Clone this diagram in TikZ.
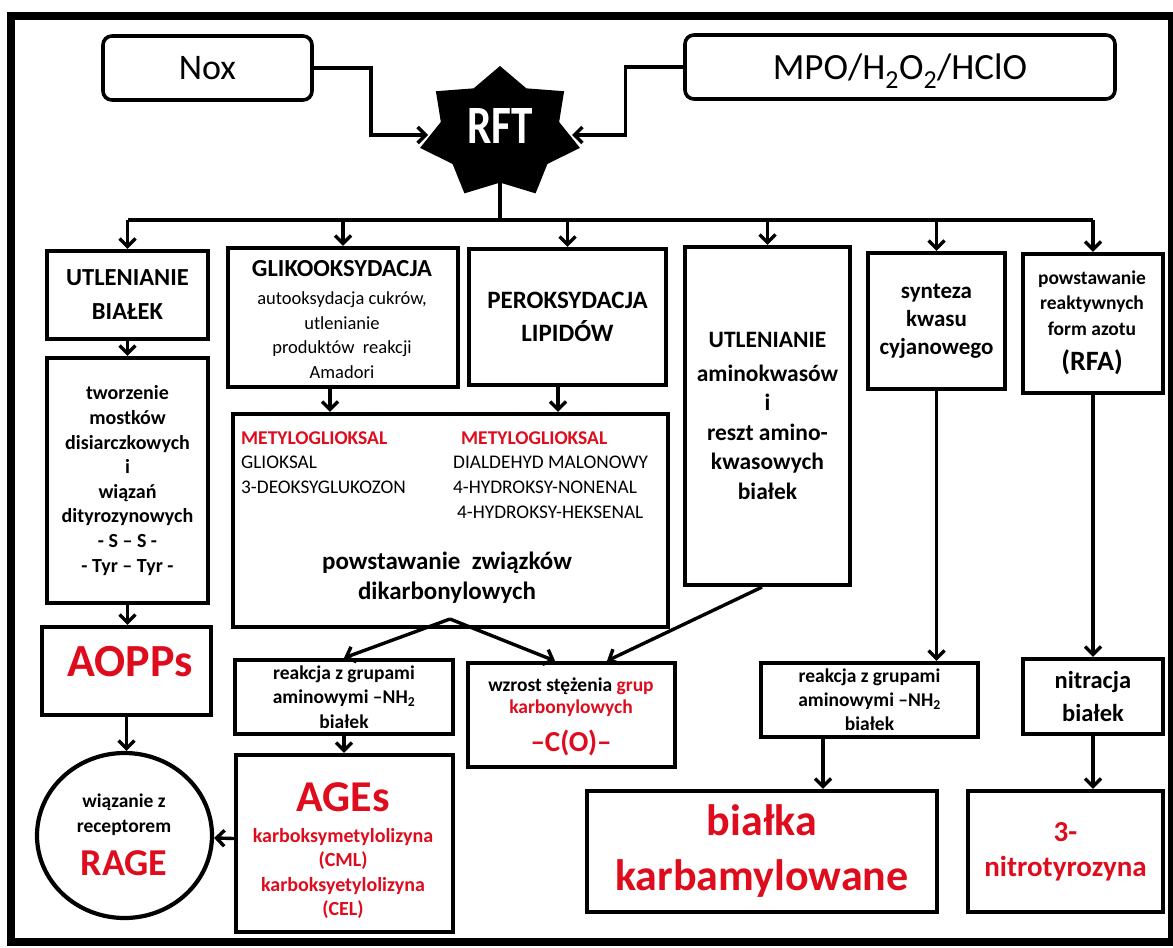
\documentclass[tikz,border=0pt]{standalone}
\usepackage{fontspec}
\usepackage{graphicx}
\setmainfont{Carlito}
\usetikzlibrary{arrows.meta,shapes.geometric}
\definecolor{hred}{RGB}{222,12,28}
\newcommand\fsz[2]{\fontsize{#1}{#2}\selectfont}

\begin{document}
\begin{tikzpicture}[x=1pt,y=-1pt,
  box/.style={draw, line width=4.2pt, inner sep=0pt, align=center},
  rbox/.style={draw, line width=3.6pt, inner sep=0pt, rounded corners=9pt},
  txt/.style={inner sep=0pt, align=center},
  ln/.style={line width=3.4pt},
  arr/.style={line width=3.4pt, -{Straight Barb[length=8pt,width=16pt]}}]

\useasboundingbox (0,0) rectangle (1173,948);
\fill[white] (0,0) rectangle (1173,948);

% outer frame
\draw[line width=8pt] (11,16) rectangle (1172,942);

% sources
\node[rbox, minimum width=209pt, minimum height=64pt, font=\fsz{36}{40}] (nox) at (207.5,68) {Nox};
\node[rbox, minimum width=430pt, minimum height=64pt, font=\fsz{37}{40}] (mpo) at (900,67) {\raisebox{0pt}[\height][0pt]{MPO/H\textsubscript{2}O\textsubscript{2}/HClO}};

% seven-pointed star
\fill plot[samples at={0,...,13}, variable=\k]
  ({500+(1-0.26*mod(\k,2))*82*cos(-90+\k*360/14)},{133+(1-0.26*mod(\k,2))*67*sin(-90+\k*360/14)}) -- cycle;
\node[txt, font=\fsz{54}{54}\bfseries, text=white] (rft) at (500,126) {\scalebox{0.8}[1]{RFT}};
\coordinate (rftL) at (428,135);
\coordinate (rftR) at (572,135);
\coordinate (rftB) at (500,180);
\coordinate (bus) at (500,220);
\coordinate (busL) at (128,220);
\coordinate (busR) at (1093,220);

% first row
\node[box, minimum width=161pt, minimum height=88pt, font=\fsz{24.5}{34}\bfseries] (b1) at (127.5,295) {UTLENIANIE\\BIAŁEK};

\node[box, minimum width=230pt, minimum height=139pt] (b2) at (343,317.5) {};
\node[txt, font=\fsz{24.5}{29}\bfseries] (b2t) at (342,269) {GLIKOOKSYDACJA};
\node[txt, font=\fsz{18.5}{24.6}] (b2s) at (342,335) {autooksydacja cukrów,\\utlenianie\\produktów\ \ reakcji\\Amadori};

\node[box, minimum width=197pt, minimum height=136pt, font=\fsz{25}{33}\bfseries] (b3) at (567.5,317) {PEROKSYDACJA\\LIPIDÓW};

\node[box, minimum width=165pt, minimum height=338pt, font=\fsz{23.5}{29.5}\bfseries] (b4) at (767.5,416) {UTLENIANIE\\[4pt]aminokwasów\\i\\reszt amino-\\kwasowych\\białek};

\node[box, minimum width=137pt, minimum height=136pt, font=\fsz{23}{28}\bfseries] (b5) at (936.5,321) {synteza\\kwasu\\cyjanowego};

\node[box, minimum width=140pt, minimum height=139pt] (b6) at (1093,323.5) {};
\node[txt, font=\fsz{19.5}{25.5}\bfseries] (b6t) at (1092,303) {powstawanie\\reaktywnych\\form azotu};
\node[txt, font=\fsz{28}{30}\bfseries] (b6r) at (1092,362) {(RFA)};

% second row
\node[box, minimum width=161pt, minimum height=245pt, font=\fsz{20}{24.6}\bfseries] (b7) at (127.5,480.5) {tworzenie\\mostków\\disiarczkowych\\i\\wiązań\\dityrozynowych\\- S – S -\\- Tyr – Tyr -};

\node[box, minimum width=435pt, minimum height=213pt] (b8) at (450.5,520.5) {};
\node[txt, anchor=west, font=\fsz{19.5}{24}\bfseries, text=hred] (mg1) at (241,438) {METYLOGLIOKSAL};
\node[txt, anchor=west, font=\fsz{19.3}{24}] (gl) at (241,462) {GLIOKSAL};
\node[txt, anchor=west, font=\fsz{19.3}{24}] (dg) at (241,487) {3-DEOKSYGLUKOZON};
\node[txt, anchor=west, font=\fsz{19.5}{24}\bfseries, text=hred] (mg2) at (461,438) {METYLOGLIOKSAL};
\node[txt, anchor=west, font=\fsz{19.3}{24}] (dm) at (453,462) {DIALDEHYD MALONOWY};
\node[txt, anchor=west, font=\fsz{19.3}{24}] (hn) at (453,487) {4-HYDROKSY-NONENAL};
\node[txt, anchor=west, font=\fsz{19.3}{24}] (hh) at (457,512) {4-HYDROKSY-HEKSENAL};
\node[txt, font=\fsz{25}{30}\bfseries] (dik) at (447,578) {powstawanie\ \ związków\\dikarbonylowych};
\coordinate (apex) at (450,619);

% lower rows
\node[box, minimum width=169pt, minimum height=88pt] (b9) at (126.5,671) {};
\node[txt, font=\fsz{46}{46}\bfseries, text=hred] (b9t) at (130,662) {AOPPs};

\node[draw, ellipse, line width=4.2pt, minimum width=175pt, minimum height=165pt, inner sep=0pt] (rage) at (124.5,835.5) {};
\node[txt, font=\fsz{19.5}{25}\bfseries] (raget) at (124,815) {wiązanie z\\receptorem};
\node[txt, font=\fsz{38}{38}\bfseries, text=hred] (rager) at (124,863) {RAGE};

\node[box, minimum width=218pt, minimum height=74pt, font=\fsz{19.5}{24.5}\bfseries] (b10) at (344,697) {reakcja z grupami\\aminowymi –NH\textsubscript{2}\\białek};

\node[box, minimum width=217pt, minimum height=177pt] (b11) at (344.5,843.5) {};
\node[txt, font=\fsz{44}{44}\bfseries, text=hred] (b11t) at (343,797) {AGEs};
\node[txt, font=\fsz{20}{24.5}\bfseries, text=hred] (b11s) at (343,873.5) {karboksymetylolizyna\\(CML)\\karboksyetylolizyna\\(CEL)};

\node[box, minimum width=207pt, minimum height=104pt] (b12) at (571.5,715) {};
\node[txt, font=\fsz{19.5}{22}\bfseries] (b12t) at (571,697) {wzrost stężenia \textcolor{hred}{grup}\\\textcolor{hred}{karbonylowych}};
\node[txt, font=\fsz{29}{30}\bfseries, text=hred] (b12c) at (571,743) {–C(O)–};

\node[box, minimum width=217pt, minimum height=74pt, font=\fsz{19.5}{24}\bfseries] (b13) at (869.5,700) {reakcja z grupami\\aminowymi –NH\textsubscript{2}\\białek};

\node[box, minimum width=350pt, minimum height=121pt, font=\fsz{44}{55}\bfseries, text=hred] (b14) at (762,851.5) {białka\\karbamylowane};

\node[box, minimum width=140pt, minimum height=75pt, font=\fsz{24.5}{33}\bfseries] (b15) at (1093,696.5) {nitracja\\białek};

\node[box, minimum width=195pt, minimum height=121pt, font=\fsz{29}{35}\bfseries, text=hred] (b16) at (1065.5,851.5) {3-\\nitrotyrozyna};

% connectors
\draw[arr] (nox.east) -- ++(57,0) |- (rftL);
\draw[arr] (mpo.west) -- ++(-58,0) |- (rftR);
\draw[ln] (rftB) -- (bus);
\draw[ln] (busL) -- (busR);
\foreach \n in {b1,b2,b3,b4,b5,b6}
  \draw[arr] (\n.north |- bus) -- (\n.north);

\draw[arr] (b1.south) -- (b7.north);
\draw[arr] (b7.south) -- (b7.south |- b9.north);
\draw[arr] (b9.south) -- (b9.south |- rage.north);
\draw[arr] ([xshift=-13pt]b2.south) -- ([xshift=-13pt]b2.south |- b8.north);
\draw[arr] ([xshift=-9.5pt]b3.south) -- ([xshift=-9.5pt]b3.south |- b8.north);
\draw[arr] (apex) -- (b10.north);
\draw[arr] (apex) -- ([xshift=-16.5pt]b12.north);
\draw[arr] ([xshift=-5.5pt]b4.south) -- ([xshift=35.5pt]b12.north);
\draw[arr] (b10.south) -- (b10.south |- b11.north);
\draw[arr] ([yshift=5pt]b11.west) -- (rage);
\draw[arr] (b5.south) -- (b5.south |- b13.north);
\draw[arr] (b6.south) -- (b6.south |- b15.north);
\draw[arr] ([xshift=-46.5pt]b13.south) -- ([xshift=-46.5pt]b13.south |- b14.north);
\draw[arr] (b15.south) -- (b15.south |- b16.north);
\end{tikzpicture}
\end{document}
